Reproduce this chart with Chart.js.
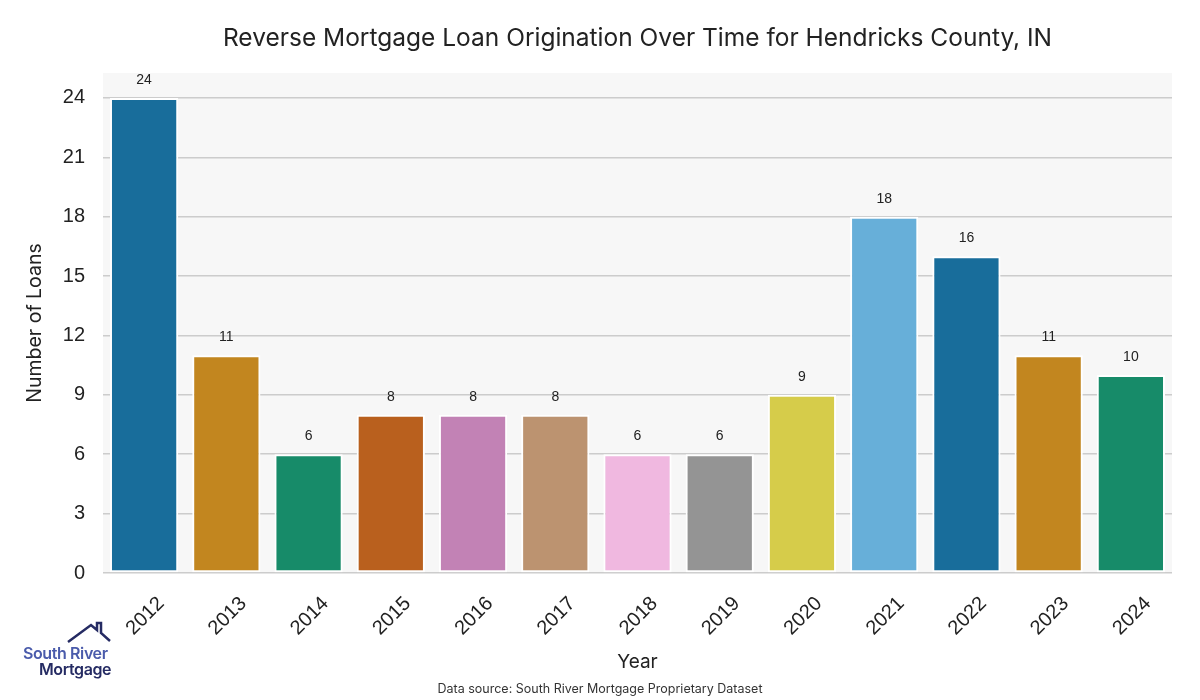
<!DOCTYPE html>
<html>
<head>
<meta charset="utf-8">
<script src="https://cdn.jsdelivr.net/npm/chart.js@4"></script>
<style>
  body { margin: 0; background: #fff; }
  #wrap { position: relative; width: 1200px; height: 700px; }
  #logo { position: absolute; left: 0; top: 0; width: 130px; height: 700px; pointer-events: none; }
  #logo .l1 { position: absolute; left: 23px; top: 643px; font: 600 16px "Inter", sans-serif; color: #4a5bab; letter-spacing: -0.4px; white-space: nowrap; }
  #logo .l2 { position: absolute; left: 39px; top: 659px; font: 600 16px "Inter", sans-serif; color: #252b63; letter-spacing: -0.4px; white-space: nowrap; }
</style>
</head>
<body>
<div id="wrap">
  <canvas id="myChart" width="1200" height="700"></canvas>
  <div id="logo">
    <svg width="130" height="700" style="position:absolute;left:0;top:0">
      <polyline points="68,642 91,625 97,630 97,623 101,623 101,633 110,641" fill="none" stroke="#252b63" stroke-width="2.5" stroke-linejoin="miter" />
    </svg>
    <div class="l1">South River</div>
    <div class="l2">Mortgage</div>
  </div>
</div>
<script>
var years = ['2012','2013','2014','2015','2016','2017','2018','2019','2020','2021','2022','2023','2024'];
var loans = [24, 11, 6, 8, 8, 8, 6, 6, 9, 18, 16, 11, 10];
var barColors = ['#186d9b','#c2861f','#178b69','#b9601e','#c282b5','#bc9370','#f0b8e0','#949494','#d6cc4a','#67afd9','#186d9b','#c2861f','#178b69'];
var yTicks = [0, 3, 6, 9, 12, 15, 18, 21, 24];

var chartTitle = 'Reverse Mortgage Loan Origination Over Time for Hendricks County, IN';
var sourceNote = 'Data source: South River Mortgage Proprietary Dataset';

var extras = {
  id: 'extras',
  beforeDraw: function(chart) {
    var c = chart.ctx, a = chart.chartArea;
    c.save();
    c.fillStyle = '#f7f7f7';
    c.fillRect(a.left, a.top, a.right - a.left, a.bottom - a.top);
    c.restore();
  },
  afterDraw: function(chart) {
    var c = chart.ctx, a = chart.chartArea;
    c.save();
    c.fillStyle = '#222';
    c.textAlign = 'center';
    c.textBaseline = 'middle';
    c.font = '24.5px Inter';
    c.fillText(chartTitle, (a.left + a.right) / 2, 39);
    c.font = '12.5px Inter';
    c.fillStyle = '#333';
    c.fillText(sourceNote, 600, 689);
    // value labels above the bars
    var meta = chart.getDatasetMeta(0);
    c.font = '14px "Liberation Sans"';
    c.fillStyle = '#222';
    meta.data.forEach(function(bar, i) {
      c.fillText(String(loans[i]), bar.x, bar.y - 18);
    });
    c.restore();
  }
};

var ctx = document.getElementById('myChart').getContext('2d');
var chart = new Chart(ctx, {
  type: 'bar',
  data: {
    labels: years,
    datasets: [{
      data: loans,
      backgroundColor: barColors,
      borderColor: '#ffffff',
      borderWidth: 2,
      borderSkipped: false,
      barPercentage: 0.83,
      categoryPercentage: 1.0
    }]
  },
  options: {
    responsive: false,
    animation: false,
    layout: { padding: { left: 0, right: 28, top: 73, bottom: 0 } },
    plugins: { legend: { display: false }, tooltip: { enabled: false } },
    scales: {
      x: {
        grid: { display: false },
        border: { display: false },
        ticks: { font: { family: 'Liberation Sans', size: 20 }, color: '#222', maxRotation: 45, minRotation: 45, padding: 11, labelOffset: 17 },
        title: { display: true, text: 'Year', font: { family: 'Inter', size: 19 }, color: '#222', padding: { top: 0, bottom: 26 } },
        afterFit: function(s) { s.height = 127; }
      },
      y: {
        min: 0,
        max: 25.26,
        afterBuildTicks: function(s) { s.ticks = yTicks.map(function(v) { return { value: v }; }); },
        grid: { color: '#cccccc', lineWidth: 1.5, drawTicks: false },
        border: { display: false },
        ticks: { font: { family: 'Liberation Sans', size: 20 }, color: '#222', padding: 18 },
        title: { display: true, text: 'Number of Loans', font: { family: 'Inter', size: 19.5 }, color: '#222', padding: { top: 23, bottom: 0 } },
        afterFit: function(s) { s.width = 103; }
      }
    }
  },
  plugins: [extras]
});
</script>
</body>
</html>
